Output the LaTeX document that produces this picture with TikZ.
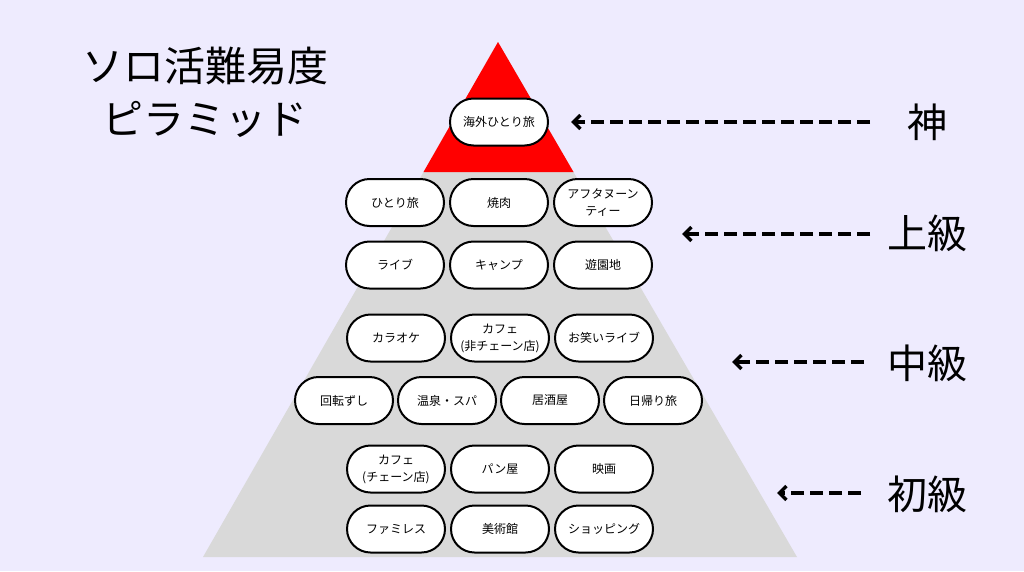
\documentclass[tikz,border=0pt]{standalone}
\usepackage{fontspec}
\setmainfont{Noto Sans CJK JP}
\usetikzlibrary{arrows.meta,positioning}
\definecolor{bgcol}{HTML}{EEEBFE}
\definecolor{pyrgray}{HTML}{D9D9D9}

\begin{document}
\begin{tikzpicture}[x=1pt,y=-1pt,>={Straight Barb[length=7pt,width=14pt]},node distance=104pt,
                    pill/.style={draw,fill=white,line width=2pt,rounded corners=23.5pt,
                      minimum width=98pt,minimum height=47pt,inner sep=0pt,align=center,
                      font=\fontsize{12}{17}\selectfont},
                    level/.style={font=\fontsize{40}{44}\selectfont},
                    lead/.style={->,line width=3.4pt,dash pattern=on 13pt off 6pt}]
  \useasboundingbox (0,0) rectangle (1024,571);
  \fill[bgcol] (0,0) rectangle (1024,571);
  % pyramid
  \fill[pyrgray] (498,42) -- (203,557) -- (797,557) -- cycle;
  \fill[red] (498,42) -- (423.5,172) -- (573.5,172) -- cycle;

  \node[align=center,font=\fontsize{41}{53}\selectfont] (title) at (205,92) {ソロ活難易度\\ピラミッド};

  \node[pill] (g1) at (499,122) {海外ひとり旅};

  \node[pill] (a1) at (395,202.5) {ひとり旅};
  \node[pill] (a2) [right of=a1] {焼肉};
  \node[pill] (a3) [right of=a2] {アフタヌーン\\ティー};
  \node[pill] (a4) at (395,265) {ライブ};
  \node[pill] (a5) [right of=a4] {キャンプ};
  \node[pill] (a6) [right of=a5] {遊園地};

  \node[pill] (b1) at (396,338) {カラオケ};
  \node[pill] (b2) [right of=b1] {カフェ\\(非チェーン店)};
  \node[pill] (b3) [right of=b2] {お笑いライブ};
  \node[pill] (b4) at (344,400.5) {回転ずし};
  \node[pill] (b5) [right of=b4,node distance=103pt] {温泉・スパ};
  \node[pill] (b6) [right of=b5,node distance=103pt] {居酒屋};
  \node[pill] (b7) [right of=b6,node distance=103pt] {日帰り旅};

  \node[pill] (c1) at (396,469) {カフェ\\(チェーン店)};
  \node[pill] (c2) [right of=c1] {パン屋};
  \node[pill] (c3) [right of=c2] {映画};
  \node[pill] (c4) at (396,529) {ファミレス};
  \node[pill] (c5) [right of=c4] {美術館};
  \node[pill] (c6) [right of=c5] {ショッピング};

  % levels
  \node[level] (l0) at (927,122) {神};
  \node[level] (l1) at (927,233) {上級};
  \node[level] (l2) at (927,363) {中級};
  \node[level] (l3) at (927,494) {初級};

  \coordinate (s0) at (870,122);  \coordinate (t0) at (571,122);
  \coordinate (s1) at (870,234);  \coordinate (t1) at (682,234);
  \coordinate (s2) at (864,362);  \coordinate (t2) at (732,362);
  \coordinate (s3) at (861,493);  \coordinate (t3) at (777,493);
  \foreach \i in {0,...,3}
    \draw[lead] (s\i) -- (t\i);
\end{tikzpicture}
\end{document}
